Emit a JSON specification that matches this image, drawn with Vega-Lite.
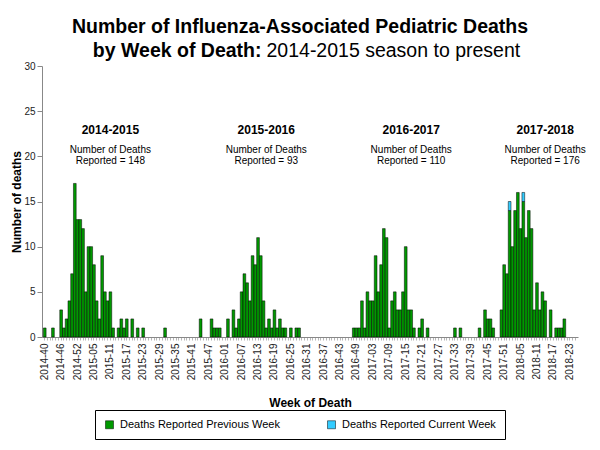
{
  "$schema": "https://vega.github.io/schema/vega-lite/v6.json",
  "width": 536,
  "height": 271,
  "autosize": {"type": "none"},
  "padding": {"left": 42, "top": 66, "right": 22, "bottom": 113},
  "background": "white",
  "config": {"font": "Liberation Sans", "view": {"stroke": null}},
  "title": {
    "text": "Number of Influenza-Associated Pediatric Deaths",
    "fontSize": 19.5,
    "fontWeight": "bold",
    "color": "black",
    "anchor": "middle",
    "frame": "group",
    "dx": -10,
    "offset": 3
  },
  "datasets": {
    "notes": [
      {"week": "2015-11", "season": "2014-2015", "reported": "Reported = 148"},
      {"week": "2016-16", "season": "2015-2016", "reported": "Reported = 93"},
      {"week": "2017-17", "season": "2016-2017", "reported": "Reported = 110"},
      {"week": "2018-14", "season": "2017-2018", "reported": "Reported = 176"}
    ],
    "deaths": [
      {"week":"2014-40","prev":1,"curr":0},{"week":"2014-41","prev":0,"curr":0},{"week":"2014-42","prev":0,"curr":0},{"week":"2014-43","prev":1,"curr":0},
      {"week":"2014-44","prev":0,"curr":0},{"week":"2014-45","prev":0,"curr":0},{"week":"2014-46","prev":3,"curr":0},{"week":"2014-47","prev":1,"curr":0},
      {"week":"2014-48","prev":2,"curr":0},{"week":"2014-49","prev":4,"curr":0},{"week":"2014-50","prev":7,"curr":0},{"week":"2014-51","prev":17,"curr":0},
      {"week":"2014-52","prev":13,"curr":0},{"week":"2014-53","prev":13,"curr":0},
      {"week":"2015-01","prev":12,"curr":0},{"week":"2015-02","prev":5,"curr":0},{"week":"2015-03","prev":10,"curr":0},{"week":"2015-04","prev":10,"curr":0},
      {"week":"2015-05","prev":8,"curr":0},{"week":"2015-06","prev":4,"curr":0},{"week":"2015-07","prev":2,"curr":0},{"week":"2015-08","prev":9,"curr":0},
      {"week":"2015-09","prev":5,"curr":0},{"week":"2015-10","prev":4,"curr":0},{"week":"2015-11","prev":5,"curr":0},{"week":"2015-12","prev":1,"curr":0},
      {"week":"2015-13","prev":0,"curr":0},{"week":"2015-14","prev":1,"curr":0},{"week":"2015-15","prev":2,"curr":0},{"week":"2015-16","prev":1,"curr":0},
      {"week":"2015-17","prev":2,"curr":0},{"week":"2015-18","prev":0,"curr":0},{"week":"2015-19","prev":2,"curr":0},{"week":"2015-20","prev":0,"curr":0},
      {"week":"2015-21","prev":1,"curr":0},{"week":"2015-22","prev":0,"curr":0},{"week":"2015-23","prev":1,"curr":0},{"week":"2015-24","prev":0,"curr":0},
      {"week":"2015-25","prev":0,"curr":0},{"week":"2015-26","prev":0,"curr":0},{"week":"2015-27","prev":0,"curr":0},{"week":"2015-28","prev":0,"curr":0},
      {"week":"2015-29","prev":0,"curr":0},{"week":"2015-30","prev":0,"curr":0},{"week":"2015-31","prev":1,"curr":0},{"week":"2015-32","prev":0,"curr":0},
      {"week":"2015-33","prev":0,"curr":0},{"week":"2015-34","prev":0,"curr":0},{"week":"2015-35","prev":0,"curr":0},{"week":"2015-36","prev":0,"curr":0},
      {"week":"2015-37","prev":0,"curr":0},{"week":"2015-38","prev":0,"curr":0},{"week":"2015-39","prev":0,"curr":0},{"week":"2015-40","prev":0,"curr":0},
      {"week":"2015-41","prev":0,"curr":0},{"week":"2015-42","prev":0,"curr":0},{"week":"2015-43","prev":0,"curr":0},{"week":"2015-44","prev":2,"curr":0},
      {"week":"2015-45","prev":0,"curr":0},{"week":"2015-46","prev":0,"curr":0},{"week":"2015-47","prev":0,"curr":0},{"week":"2015-48","prev":2,"curr":0},
      {"week":"2015-49","prev":1,"curr":0},{"week":"2015-50","prev":1,"curr":0},{"week":"2015-51","prev":1,"curr":0},{"week":"2015-52","prev":0,"curr":0},
      {"week":"2016-01","prev":0,"curr":0},{"week":"2016-02","prev":2,"curr":0},{"week":"2016-03","prev":0,"curr":0},{"week":"2016-04","prev":3,"curr":0},
      {"week":"2016-05","prev":1,"curr":0},{"week":"2016-06","prev":2,"curr":0},{"week":"2016-07","prev":5,"curr":0},{"week":"2016-08","prev":7,"curr":0},
      {"week":"2016-09","prev":6,"curr":0},{"week":"2016-10","prev":4,"curr":0},{"week":"2016-11","prev":9,"curr":0},{"week":"2016-12","prev":8,"curr":0},
      {"week":"2016-13","prev":11,"curr":0},{"week":"2016-14","prev":9,"curr":0},{"week":"2016-15","prev":4,"curr":0},{"week":"2016-16","prev":1,"curr":0},
      {"week":"2016-17","prev":2,"curr":0},{"week":"2016-18","prev":1,"curr":0},{"week":"2016-19","prev":3,"curr":0},{"week":"2016-20","prev":1,"curr":0},
      {"week":"2016-21","prev":2,"curr":0},{"week":"2016-22","prev":1,"curr":0},{"week":"2016-23","prev":1,"curr":0},{"week":"2016-24","prev":0,"curr":0},
      {"week":"2016-25","prev":1,"curr":0},{"week":"2016-26","prev":0,"curr":0},{"week":"2016-27","prev":1,"curr":0},{"week":"2016-28","prev":1,"curr":0},
      {"week":"2016-29","prev":0,"curr":0},{"week":"2016-30","prev":0,"curr":0},{"week":"2016-31","prev":0,"curr":0},{"week":"2016-32","prev":0,"curr":0},
      {"week":"2016-33","prev":0,"curr":0},{"week":"2016-34","prev":0,"curr":0},{"week":"2016-35","prev":0,"curr":0},{"week":"2016-36","prev":0,"curr":0},
      {"week":"2016-37","prev":0,"curr":0},{"week":"2016-38","prev":0,"curr":0},{"week":"2016-39","prev":0,"curr":0},{"week":"2016-40","prev":0,"curr":0},
      {"week":"2016-41","prev":0,"curr":0},{"week":"2016-42","prev":0,"curr":0},{"week":"2016-43","prev":0,"curr":0},{"week":"2016-44","prev":0,"curr":0},
      {"week":"2016-45","prev":0,"curr":0},{"week":"2016-46","prev":0,"curr":0},{"week":"2016-47","prev":0,"curr":0},{"week":"2016-48","prev":1,"curr":0},
      {"week":"2016-49","prev":1,"curr":0},{"week":"2016-50","prev":1,"curr":0},{"week":"2016-51","prev":4,"curr":0},{"week":"2016-52","prev":1,"curr":0},
      {"week":"2017-01","prev":5,"curr":0},{"week":"2017-02","prev":4,"curr":0},{"week":"2017-03","prev":4,"curr":0},{"week":"2017-04","prev":9,"curr":0},
      {"week":"2017-05","prev":5,"curr":0},{"week":"2017-06","prev":8,"curr":0},{"week":"2017-07","prev":12,"curr":0},{"week":"2017-08","prev":11,"curr":0},
      {"week":"2017-09","prev":1,"curr":0},{"week":"2017-10","prev":4,"curr":0},{"week":"2017-11","prev":5,"curr":0},{"week":"2017-12","prev":3,"curr":0},
      {"week":"2017-13","prev":3,"curr":0},{"week":"2017-14","prev":5,"curr":0},{"week":"2017-15","prev":10,"curr":0},{"week":"2017-16","prev":3,"curr":0},
      {"week":"2017-17","prev":3,"curr":0},{"week":"2017-18","prev":1,"curr":0},{"week":"2017-19","prev":0,"curr":0},{"week":"2017-20","prev":1,"curr":0},
      {"week":"2017-21","prev":2,"curr":0},{"week":"2017-22","prev":0,"curr":0},{"week":"2017-23","prev":1,"curr":0},{"week":"2017-24","prev":0,"curr":0},
      {"week":"2017-25","prev":0,"curr":0},{"week":"2017-26","prev":0,"curr":0},{"week":"2017-27","prev":0,"curr":0},{"week":"2017-28","prev":0,"curr":0},
      {"week":"2017-29","prev":0,"curr":0},{"week":"2017-30","prev":0,"curr":0},{"week":"2017-31","prev":0,"curr":0},{"week":"2017-32","prev":0,"curr":0},
      {"week":"2017-33","prev":1,"curr":0},{"week":"2017-34","prev":0,"curr":0},{"week":"2017-35","prev":1,"curr":0},{"week":"2017-36","prev":0,"curr":0},
      {"week":"2017-37","prev":0,"curr":0},{"week":"2017-38","prev":0,"curr":0},{"week":"2017-39","prev":0,"curr":0},{"week":"2017-40","prev":0,"curr":0},
      {"week":"2017-41","prev":0,"curr":0},{"week":"2017-42","prev":1,"curr":0},{"week":"2017-43","prev":0,"curr":0},{"week":"2017-44","prev":3,"curr":0},
      {"week":"2017-45","prev":2,"curr":0},{"week":"2017-46","prev":2,"curr":0},{"week":"2017-47","prev":1,"curr":0},{"week":"2017-48","prev":0,"curr":0},
      {"week":"2017-49","prev":0,"curr":0},{"week":"2017-50","prev":3,"curr":0},{"week":"2017-51","prev":8,"curr":0},{"week":"2017-52","prev":7,"curr":0},
      {"week":"2018-01","prev":14,"curr":1},{"week":"2018-02","prev":10,"curr":0},{"week":"2018-03","prev":14,"curr":0},{"week":"2018-04","prev":16,"curr":0},
      {"week":"2018-05","prev":12,"curr":0},{"week":"2018-06","prev":15,"curr":1},{"week":"2018-07","prev":11,"curr":0},{"week":"2018-08","prev":14,"curr":0},
      {"week":"2018-09","prev":12,"curr":0},{"week":"2018-10","prev":3,"curr":0},{"week":"2018-11","prev":6,"curr":0},{"week":"2018-12","prev":3,"curr":0},
      {"week":"2018-13","prev":5,"curr":0},{"week":"2018-14","prev":4,"curr":0},{"week":"2018-15","prev":0,"curr":0},{"week":"2018-16","prev":3,"curr":0},
      {"week":"2018-17","prev":0,"curr":0},{"week":"2018-18","prev":1,"curr":0},{"week":"2018-19","prev":1,"curr":0},{"week":"2018-20","prev":1,"curr":0},
      {"week":"2018-21","prev":2,"curr":0},{"week":"2018-22","prev":0,"curr":0},{"week":"2018-23","prev":0,"curr":0},{"week":"2018-24","prev":0,"curr":0},
      {"week":"2018-25","prev":0,"curr":0}
    ]
  },
  "layer": [
    {
      "data": {"name": "deaths"},
      "transform": [{"fold": ["prev", "curr"], "as": ["series", "deaths"]}],
      "mark": {"type": "bar", "stroke": "black", "strokeWidth": 0.5},
      "encoding": {
        "x": {
          "field": "week",
          "type": "ordinal",
          "scale": {"paddingInner": 0, "paddingOuter": 0.5},
          "axis": {
            "title": "Week of Death",
            "titleFontSize": 12,
            "titleFontWeight": "bold",
            "titleColor": "black",
            "titlePadding": 18,
            "labelAngle": -90,
            "labelFontSize": 10,
            "labelColor": "#222",
            "labelPadding": 3,
            "labelOverlap": false,
            "labelExpr": "indexof(['2014-40','2014-46','2014-52','2015-05','2015-11','2015-17','2015-23','2015-29','2015-35','2015-41','2015-47','2016-01','2016-07','2016-13','2016-19','2016-25','2016-31','2016-37','2016-43','2016-49','2017-03','2017-09','2017-15','2017-21','2017-27','2017-33','2017-39','2017-45','2017-51','2018-05','2018-11','2018-17','2018-23'], datum.value) >= 0 ? datum.value : ''",
            "tickSize": 3,
            "tickColor": "#888",
            "tickWidth": 0.6,
            "domainColor": "#888",
            "grid": false
          }
        },
        "y": {
          "field": "deaths",
          "type": "quantitative",
          "stack": "zero",
          "scale": {"domain": [0, 30], "nice": false},
          "axis": {
            "title": "Number of deaths",
            "titleFontSize": 12,
            "titleFontWeight": "bold",
            "titleColor": "black",
            "titlePadding": 0,
            "values": [0, 5, 10, 15, 20, 25, 30],
            "labelFontSize": 10,
            "labelColor": "#222",
            "labelPadding": 2,
            "tickSize": 5,
            "tickColor": "#888",
            "domainColor": "#888",
            "grid": false
          }
        },
        "color": {
          "field": "series",
          "type": "nominal",
          "scale": {"domain": ["prev", "curr"], "range": ["#009900", "#33CCFF"]},
          "legend": {
            "orient": "none",
            "legendX": 53,
            "legendY": 344,
            "direction": "horizontal",
            "title": null,
            "strokeColor": "black",
            "padding": 9,
            "symbolType": "square",
            "symbolSize": 64,
            "symbolStrokeColor": "black",
            "symbolStrokeWidth": 0.5,
            "symbolOpacity": 1,
            "labelFontSize": 11,
            "labelColor": "black",
            "labelOffset": 5,
            "labelLimit": 300,
            "columnPadding": 46,
            "labelExpr": "datum.value == 'prev' ? 'Deaths Reported Previous Week' : 'Deaths Reported Current Week'"
          }
        },
        "order": {"field": "series", "sort": "descending"},
        "strokeOpacity": {"condition": {"test": "datum.deaths > 0", "value": 1}, "value": 0}
      }
    },
    {
      "data": {"name": "notes"},
      "mark": {"type": "text", "fontSize": 12, "fontWeight": "bold", "color": "black"},
      "encoding": {
        "x": {
          "field": "week",
          "type": "ordinal",
          "axis": {
            "orient": "top",
            "title": "by Week of Death:",
            "domain": false,
            "ticks": false,
            "labels": false,
            "grid": false,
            "titleFontSize": 19.5,
            "titleFontWeight": "bold",
            "titleColor": "black",
            "titleAngle": 0,
            "titleAlign": "right",
            "titleBaseline": "alphabetic",
            "titleX": 219,
            "titleY": -10
          }
        },
        "y": {"datum": 22.9, "type": "quantitative", "axis": null},
        "text": {"field": "season"}
      }
    },
    {
      "data": {"name": "notes"},
      "mark": {"type": "text", "fontSize": 10, "color": "black"},
      "encoding": {
        "x": {"field": "week", "type": "ordinal", "axis": null},
        "y": {
          "datum": 20.7,
          "type": "quantitative",
          "axis": {
            "orient": "right",
            "title": "2014-2015 season to present",
            "domain": false,
            "ticks": false,
            "labels": false,
            "grid": false,
            "titleFontSize": 19.5,
            "titleFontWeight": "normal",
            "titleColor": "black",
            "titleAngle": 0,
            "titleAlign": "left",
            "titleBaseline": "alphabetic",
            "titleX": -312,
            "titleY": -10
          }
        },
        "text": {"value": "Number of Deaths"}
      }
    },
    {
      "data": {"name": "notes"},
      "mark": {"type": "text", "fontSize": 10, "color": "black"},
      "encoding": {
        "x": {"field": "week", "type": "ordinal", "axis": null},
        "y": {"datum": 19.5, "type": "quantitative", "axis": null},
        "text": {"field": "reported"}
      }
    }
  ],
  "resolve": {"axis": {"x": "independent", "y": "independent"}}
}
